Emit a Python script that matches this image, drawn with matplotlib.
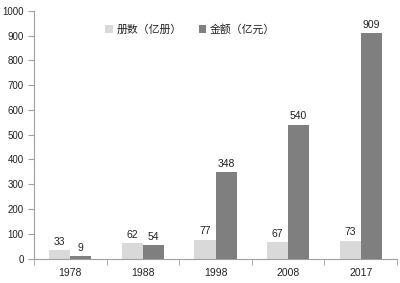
import matplotlib
matplotlib.use("Agg")
import matplotlib.pyplot as plt
import numpy as np

plt.rcParams['font.family'] = ['Liberation Sans', 'Noto Sans CJK SC']

years = ['1978', '1988', '1998', '2008', '2017']
volumes = [33, 62, 77, 67, 73]
amounts = [9, 54, 348, 540, 909]
series_names = ['册数（亿册）', '金额（亿元）']
colors = ['#d9d9d9', '#7f7f7f']

fig = plt.figure(figsize=(4.0, 2.83), dpi=100)
ax = fig.add_axes([0.085, 0.086, 0.9075, 0.876])

x = np.arange(len(years))
w = 0.29
b1 = ax.bar(x - w/2, volumes, w, color=colors[0], label=series_names[0])
b2 = ax.bar(x + w/2, amounts, w, color=colors[1], label=series_names[1])

for bars, vals in ((b1, volumes), (b2, amounts)):
    for r, v in zip(bars, vals):
        ax.annotate(str(v), (r.get_x() + r.get_width()/2, v), xytext=(0, 2.5),
                    textcoords='offset points', ha='center', va='bottom',
                    fontsize=7.5, color='#222222')

ax.set_xlim(-0.5, len(years) - 0.5)
ax.set_ylim(0, 1000)
ax.set_yticks(range(0, 1001, 100))
ax.set_xticks(x)
ax.set_xticklabels(years)
ax.set_xticks(np.arange(-0.5, len(years)), minor=True)
ax.tick_params(axis='x', which='major', length=0, labelsize=7.5, pad=7, labelcolor='#222222')
ax.tick_params(axis='x', which='minor', length=4, color='#a0a0a0', direction='out')
ax.tick_params(axis='y', length=4, color='#a0a0a0', labelsize=7, pad=3.5, labelcolor='#222222')

for s in ['top', 'right']:
    ax.spines[s].set_visible(False)
for s in ['left', 'bottom']:
    ax.spines[s].set_color('#a0a0a0')
    ax.spines[s].set_linewidth(0.8)

leg = ax.legend(loc='upper center', bbox_to_anchor=(0.43, 0.985), ncol=2, frameon=False,
                handlelength=0.7, handleheight=0.7, handletextpad=0.3,
                columnspacing=1.6, prop={'family': ['Noto Sans CJK SC'], 'size': 7.8})
for t in leg.get_texts():
    t.set_color('#222222')

fig.savefig('out.png', dpi=100)
